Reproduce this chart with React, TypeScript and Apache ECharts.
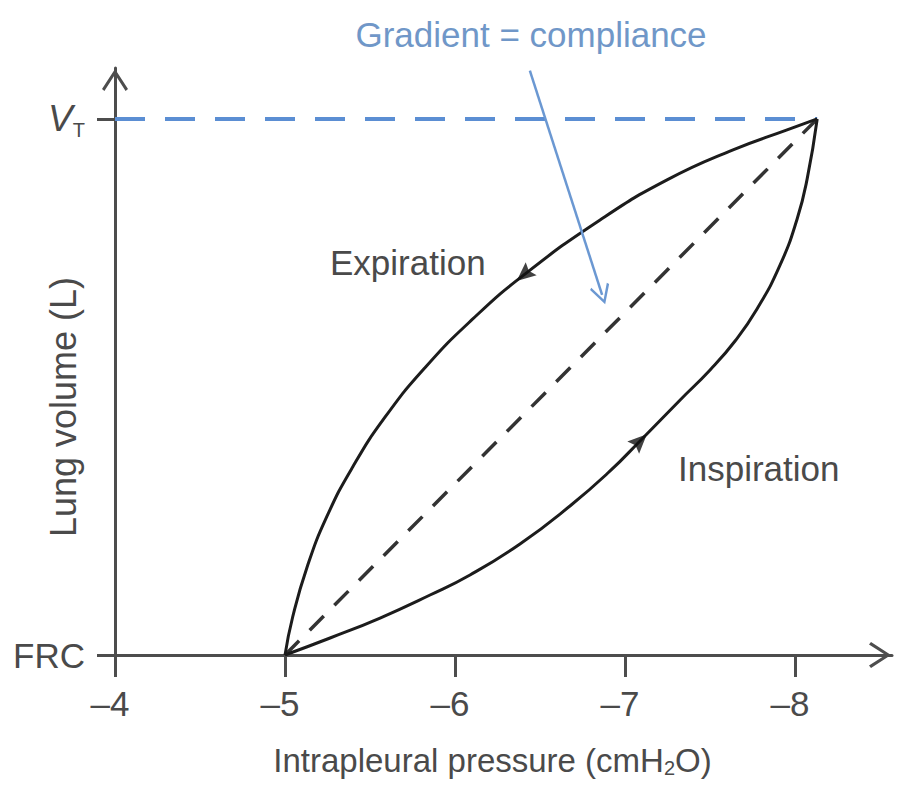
import React, { useEffect, useRef } from "react";
import * as echarts from "echarts";

// Intrapleural pressure (cmH2O) vs lung volume (FRC = 0, VT = 1)
const pressureTicks = [-4, -5, -6, -7, -8];
const volumeTicks = [0, 1];
const volumeLabels = ["FRC", "{v|V}{t|T}"];

const expirationCurve: [number, number][] = [
  [-5.0, 0.0],
  [-5.045, 0.0709],
  [-5.13, 0.1642],
  [-5.245, 0.2575],
  [-5.398, 0.3507],
  [-5.589, 0.444],
  [-5.827, 0.5373],
  [-6.098, 0.625],
  [-6.405, 0.709],
  [-6.853, 0.8116],
  [-7.247, 0.8862],
  [-7.635, 0.9422],
  [-7.953, 0.9795],
  [-8.13, 1.0],
];

const inspirationCurve: [number, number][] = [
  [-5.0, 0.0],
  [-5.265, 0.0317],
  [-5.559, 0.069],
  [-5.853, 0.1119],
  [-6.088, 0.1493],
  [-6.382, 0.2071],
  [-6.676, 0.278],
  [-6.912, 0.3433],
  [-7.088, 0.3993],
  [-7.324, 0.4758],
  [-7.5, 0.5317],
  [-7.647, 0.5858],
  [-7.776, 0.6455],
  [-7.912, 0.7276],
  [-8.012, 0.8134],
  [-8.071, 0.8881],
  [-8.13, 1.0],
];

const complianceLine: [number, number][] = [
  [-5.0, 0.0],
  [-8.13, 1.0],
];

const tidalVolumeLine: [number, number][] = [
  [-4.0, 1.0],
  [-8.13, 1.0],
];

const gradientArrow: [number, number][] = [
  [-6.44, 1.09],
  [-6.865, 0.672],
];

// flow-direction markers: [pressure, volume, rotation in degrees]
const flowMarkers: [number, number, number][] = [
  [-6.405, 0.709, 130],
  [-7.088, 0.3993, -46],
];

const FONT = "'Liberation Sans', Arial, Helvetica, sans-serif";
const TEXT = "#4a4a4a";
const AXIS = "#4d4d4d";
const BLUE = "#6b98d2";
const CHEVRON = "path://M13,0 L26,20 L23.6,22 L13,5.5 L2.4,22 L0,20 Z";
const HEAD = "path://M5,0 L10,12 L5,10 L0,12 Z";

export default function App() {
  const ref = useRef<HTMLDivElement>(null);

  useEffect(() => {
    if (!ref.current) return;
    const chart = echarts.init(ref.current, undefined, { renderer: "svg" });
    chart.setOption({
      animation: false,
      backgroundColor: "#ffffff",
      grid: { left: 115, right: 5, top: 68, bottom: 130, containLabel: false },
      xAxis: {
        type: "value",
        inverse: true,
        min: -8.57,
        max: -4,
        name: "Intrapleural pressure (cmH{sub|2}O)",
        nameLocation: "middle",
        nameGap: 87,
        nameTextStyle: {
          color: TEXT,
          fontFamily: FONT,
          fontSize: 33,
          padding: [0, 22, 0, 0],
          rich: {
            sub: { fontSize: 20, color: TEXT, fontFamily: FONT, padding: [16, 0, 0, 0] },
          },
        },
        axisLine: {
          show: true,
          symbol: ["none", CHEVRON],
          symbolSize: [26, 24],
          symbolOffset: [0, -12],
          lineStyle: { color: AXIS, width: 3 },
        },
        axisTick: {
          show: true,
          customValues: pressureTicks,
          length: 22,
          lineStyle: { color: AXIS, width: 3 },
        },
        axisLabel: {
          customValues: pressureTicks,
          formatter: (v: number) => "\u2013" + Math.abs(v),
          color: TEXT,
          fontFamily: FONT,
          fontSize: 35,
          margin: 31,
          padding: [0, 10, 0, 0],
        },
        splitLine: { show: false },
      },
      yAxis: {
        type: "value",
        min: 0,
        max: 1.095,
        axisLine: {
          show: true,
          onZero: false,
          symbol: ["none", CHEVRON],
          symbolSize: [26, 24],
          symbolOffset: [0, -12],
          lineStyle: { color: AXIS, width: 3 },
        },
        axisTick: {
          show: true,
          customValues: volumeTicks,
          length: 18,
          lineStyle: { color: AXIS, width: 3 },
        },
        axisLabel: {
          customValues: volumeTicks,
          formatter: (v: number) => volumeLabels[volumeTicks.indexOf(v)] ?? "",
          color: TEXT,
          fontFamily: FONT,
          fontSize: 35,
          margin: 30,
          rich: {
            v: { fontSize: 37, fontStyle: "italic", color: TEXT, fontFamily: FONT },
            t: { fontSize: 20, color: TEXT, fontFamily: FONT, padding: [22, 0, 0, 0] },
          },
        },
        splitLine: { show: false },
      },
      graphic: [
        {
          type: "text",
          x: 63,
          y: 407,
          rotation: Math.PI / 2,
          style: {
            text: "Lung volume (L)",
            fill: TEXT,
            font: `36px ${FONT}`,
            textAlign: "center",
            textVerticalAlign: "middle",
          },
        },
        {
          type: "text",
          x: 531,
          y: 34,
          style: {
            text: "Gradient = compliance",
            fill: "#7097c8",
            font: `35px ${FONT}`,
            textAlign: "center",
            textVerticalAlign: "middle",
          },
        },
        {
          type: "text",
          x: 330,
          y: 262,
          style: {
            text: "Expiration",
            fill: TEXT,
            font: `35px ${FONT}`,
            textAlign: "left",
            textVerticalAlign: "middle",
          },
        },
        {
          type: "text",
          x: 678,
          y: 468,
          style: {
            text: "Inspiration",
            fill: TEXT,
            font: `35px ${FONT}`,
            textAlign: "left",
            textVerticalAlign: "middle",
          },
        },
      ],
      series: [
        {
          type: "line",
          data: tidalVolumeLine,
          symbol: "none",
          lineStyle: { color: "#5b8ed3", width: 4, type: [30, 20] },
          z: 2,
        },
        {
          type: "line",
          data: complianceLine,
          symbol: "none",
          lineStyle: { color: "#333333", width: 3.5, type: [20, 15] },
          z: 3,
        },
        {
          type: "line",
          data: expirationCurve,
          symbol: "none",
          smooth: 0.5,
          lineStyle: { color: "#1c1c1c", width: 3 },
          z: 4,
        },
        {
          type: "line",
          data: inspirationCurve,
          symbol: "none",
          smooth: 0.5,
          lineStyle: { color: "#1c1c1c", width: 3 },
          z: 4,
        },
        {
          type: "scatter",
          data: flowMarkers.map((m) => ({ value: [m[0], m[1]], symbolRotate: m[2] })),
          symbol: HEAD,
          symbolSize: [17, 19],
          itemStyle: { color: "#111111" },
          z: 5,
        },
        {
          type: "lines",
          coordinateSystem: "cartesian2d",
          clip: false,
          data: [{ coords: gradientArrow }],
          symbol: ["none", CHEVRON],
          symbolSize: [22, 20],
          lineStyle: { color: BLUE, width: 2.5, opacity: 1 },
          z: 6,
        },
      ],
    });
    return () => chart.dispose();
  }, []);

  return (
    <div
      ref={ref}
      style={{ position: "fixed", left: 0, top: 0, width: 897, height: 785, background: "#fff" }}
    />
  );
}
